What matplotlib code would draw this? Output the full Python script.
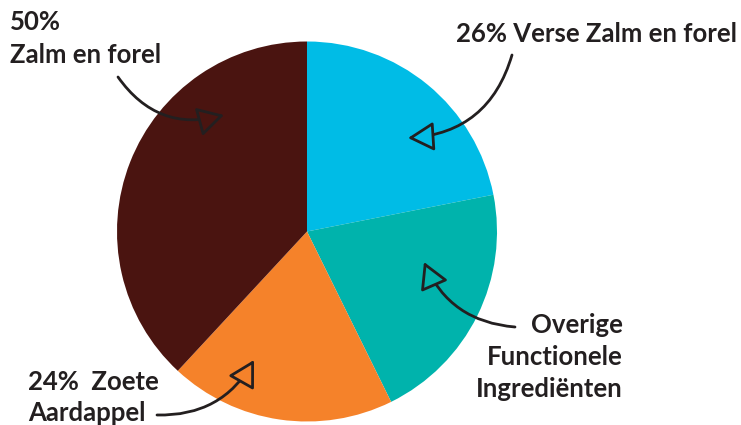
import matplotlib as mpl
mpl.use('Agg')
import matplotlib.pyplot as plt

labels = ['Verse Zalm en forel', 'Overige Functionele Ingrediënten', 'Zoete Aardappel', 'Zalm en forel']
shares = [21.9, 20.8, 19.2, 38.1]
colors = ['#00bce6', '#00b3ac', '#f5822a', '#4a1410']

W, H = 741, 425
TXT = '#231f20'

fig = plt.figure(figsize=(W / 100, H / 100), dpi=100)
ax = fig.add_axes([0, 0, 1, 1])

ax.pie(shares, colors=colors, startangle=90, counterclock=False,
       center=(307, H - 231.5), radius=190, frame=True,
       wedgeprops=dict(linewidth=0))
ax.set_xlim(0, W)
ax.set_ylim(0, H)
ax.axis('off')

font = dict(family='Lato', weight='bold', size=18.5, color=TXT)

def y(py):
  return H - py

ax.text(10, y(30), '50%', ha='left', va='baseline', **font)
ax.text(10, y(63), 'Zalm en forel', ha='left', va='baseline', **font)
ax.text(737, y(42), '26% Verse Zalm en forel', ha='right', va='baseline', **font)
ax.text(623, y(333), 'Overige', ha='right', va='baseline', **font)
ax.text(623, y(365), 'Functionele', ha='right', va='baseline', **font)
ax.text(623, y(397), 'Ingrediënten', ha='right', va='baseline', **font)
ax.text(28, y(390), '24%  Zoete', ha='left', va='baseline', **font)
ax.text(28, y(421), 'Aardappel', ha='left', va='baseline', **font)

# hand-drawn style pointers: (start, tip, bend, head fill)
arrows = [
  ((118, 77), (224, 115), 0.35, colors[3]),
  ((512, 55), (408, 138), -0.35, colors[0]),
  ((515, 327), (424, 262), -0.3, colors[1]),
  ((157, 415), (254, 360), 0.3, colors[2]),
]
for (sx, sy), (ex, ey), rad, fc in arrows:
  ax.annotate('', xy=(ex, y(ey)), xytext=(sx, y(sy)),
              arrowprops=dict(arrowstyle='-|>,head_length=0.8,head_width=0.45',
                              connectionstyle='arc3,rad=%s' % rad,
                              fc=fc, ec=TXT, lw=2.0, mutation_scale=20,
                              shrinkA=0, shrinkB=0, joinstyle='round',
                              capstyle='round'))

fig.savefig('out.png', dpi=100, facecolor='white')
